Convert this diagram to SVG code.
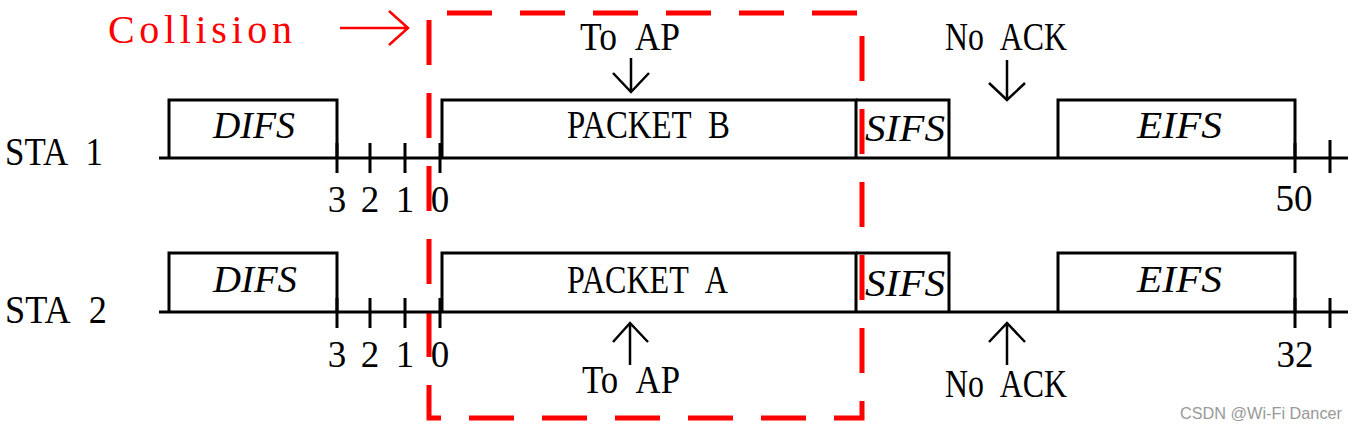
<svg xmlns="http://www.w3.org/2000/svg" width="1358" height="430" viewBox="0 0 1358 430">
<style>
.t{font-family:"Liberation Serif","Times New Roman",serif;font-size:40px;fill:#000}
.i{font-family:"Liberation Serif","Times New Roman",serif;font-size:38px;font-style:italic;fill:#000}
.d{font-family:"Liberation Serif","Times New Roman",serif;font-size:37px;fill:#000;text-anchor:middle}
.ln{stroke:#000;stroke-width:3;fill:none}
.box{stroke:#000;stroke-width:3;fill:none}
.arr{stroke:#000;stroke-width:2.5;fill:none}
.red{stroke:#ff0000;fill:none}
</style>
<rect width="1358" height="430" fill="#fff"/>
<g id="collision">
<text x="108" y="43" class="t" style="fill:#ff0000" textLength="184" lengthAdjust="spacing">Collision</text>
<path class="red" stroke-width="2.5" d="M340,28 H407 M389,11 L408,28 L389,45"/>
<path class="red" stroke-width="5" stroke-dasharray="45 28" d="M429,20 V418 H862 V13 H440"/>
</g>
<g id="sta1">
<text x="5" y="165" class="t" textLength="98" lengthAdjust="spacingAndGlyphs">STA&#8194;1</text>
<line class="ln" x1="159" y1="158" x2="1348" y2="158"/>
<path class="ln" d="M337,143 V173 M370,143 V173 M405,143 V173 M440,143 V173 M1295,143 V173 M1330,140 V173"/>
<text x="337" y="212" class="d">3</text>
<text x="370" y="212" class="d">2</text>
<text x="405" y="212" class="d">1</text>
<text x="440" y="212" class="d">0</text>
<text x="1294" y="211" class="d">50</text>
</g>
<g id="sta1-difs">
<path class="box" d="M169,158 V100 H337 V158"/>
<text x="213" y="138" class="i" textLength="82" lengthAdjust="spacingAndGlyphs">DIFS</text>
</g>
<g id="sta1-packet-b">
<path class="box" d="M442,158 V100 H856 V158"/>
<text x="567" y="138" class="t" textLength="163" lengthAdjust="spacingAndGlyphs">PACKET&#8194;B</text>
</g>
<g id="sta1-sifs">
<path class="box" d="M856,100 H949 V158"/>
<text x="865" y="141" class="i" textLength="80" lengthAdjust="spacingAndGlyphs">SIFS</text>
</g>
<g id="sta1-eifs">
<path class="box" d="M1058,158 V100 H1295 V158"/>
<text x="1137" y="138" class="i" textLength="85" lengthAdjust="spacingAndGlyphs">EIFS</text>
</g>
<g id="sta2">
<text x="5" y="323" class="t" textLength="102" lengthAdjust="spacingAndGlyphs">STA&#8194;2</text>
<line class="ln" x1="159" y1="312" x2="1348" y2="312"/>
<path class="ln" d="M337,298 V328 M370,298 V328 M405,298 V328 M440,298 V328 M1295,298 V328 M1330,298 V328"/>
<text x="337" y="367" class="d">3</text>
<text x="370" y="367" class="d">2</text>
<text x="405" y="367" class="d">1</text>
<text x="440" y="367" class="d">0</text>
<text x="1295" y="367" class="d">32</text>
</g>
<g id="sta2-difs">
<path class="box" d="M169,312 V253 H337 V312"/>
<text x="213" y="292" class="i" textLength="84" lengthAdjust="spacingAndGlyphs">DIFS</text>
</g>
<g id="sta2-packet-a">
<path class="box" d="M442,312 V253 H856 V312"/>
<text x="567" y="293" class="t" textLength="161" lengthAdjust="spacingAndGlyphs">PACKET&#8194;A</text>
</g>
<g id="sta2-sifs">
<path class="box" d="M856,253 H949 V312"/>
<text x="865" y="296" class="i" textLength="80" lengthAdjust="spacingAndGlyphs">SIFS</text>
</g>
<g id="sta2-eifs">
<path class="box" d="M1058,312 V253 H1295 V312"/>
<text x="1137" y="292" class="i" textLength="85" lengthAdjust="spacingAndGlyphs">EIFS</text>
</g>
<g id="labels">
<text x="580" y="50" class="t" textLength="100" lengthAdjust="spacingAndGlyphs">To&#8194;AP</text>
<text x="945" y="50" class="t" textLength="122" lengthAdjust="spacingAndGlyphs">No&#8194;ACK</text>
<text x="582" y="393" class="t" textLength="98" lengthAdjust="spacingAndGlyphs">To&#8194;AP</text>
<text x="945" y="397" class="t" textLength="122" lengthAdjust="spacingAndGlyphs">No&#8194;ACK</text>
</g>
<g id="connectors">
<path class="arr" d="M631,58 V92 M613,73 L631,92 L649,73"/>
<path class="arr" d="M1007,60 V100 M989,83 L1007,100 L1025,83"/>
<path class="arr" d="M630,365 V323 M613,342 L630,323 L648,342"/>
<path class="arr" d="M1007,365 V323 M989,342 L1007,323 L1025,342"/>
</g>
<text x="1180" y="419" font-family="Liberation Sans, Arial, sans-serif" font-size="16" fill="#999" textLength="162" lengthAdjust="spacingAndGlyphs">CSDN @Wi-Fi Dancer</text>
</svg>
